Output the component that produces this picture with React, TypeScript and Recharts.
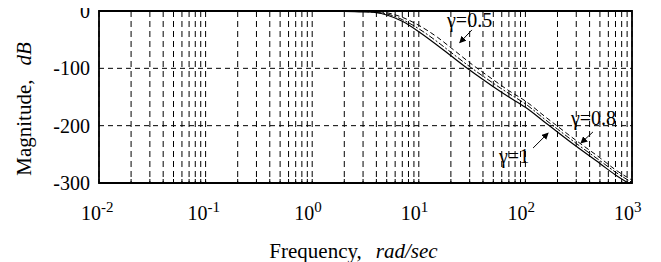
import React from 'react';
import {
  LineChart, Line, XAxis, YAxis, CartesianGrid, ReferenceArea, ReferenceLine, ReferenceDot,
} from 'recharts';

const freq = [0.01, 0.1, 1, 2, 3, 4, 5, 7, 10, 15, 20, 30, 50, 70, 100, 150, 200, 300, 500, 700, 1000];
const gamma1 = [0, 0, 0, -0.5, -1.5, -3, -7, -18, -36, -60, -78, -103, -132, -150, -168, -193, -211, -236, -266, -286, -304];
const gamma08 = [0, 0, 0, -0.3, -1, -2.5, -5, -15, -31, -54, -72, -97, -126, -144, -162, -188, -206, -231, -261, -281, -299];
const gamma05 = [0, 0, 0, 0, 0, -1, -3, -11, -25, -46, -64, -90, -120, -139, -157, -183, -201, -226, -256, -277, -295];

const decades = [0.01, 0.1, 1, 10, 100];
const multipliers = [1, 2, 3, 4, 5, 6, 7, 8, 9];
const xTicks = [...decades.flatMap((d) => multipliers.map((m) => +(d * m).toPrecision(6))), 1000];
const yTicks = [-300, -200, -100, 0];

const data = freq.map((f, i) => ({ f, g1: gamma1[i], g08: gamma08[i], g05: gamma05[i] }));

// annotation anchors (data coordinates)
const labels = [
  { text: 'γ=0.5', f: 18.8, db: -28 },
  { text: 'γ=0.8', f: 273, db: -199 },
  { text: 'γ=1', f: 57.8, db: -265 },
];
const arrows = [
  { from: [31.5, -33], to: [24.3, -55] },
  { from: [430, -211], to: [333, -230] },
  { from: [118, -239], to: [163, -213] },
];

const FONT = 'Liberation Serif, Times New Roman, serif';
const txt = { fontFamily: FONT };

const XTick = (props: any) => {
  const { x, y, payload } = props;
  const v = payload.value;
  const lg = Math.log10(v);
  const isDecade = Math.abs(lg - Math.round(lg)) < 1e-6;
  return (
    <g>
      <line x1={x} x2={x} y1={y} y2={y - 4} stroke="#000" strokeWidth={1} />
      {isDecade && (
        <g fill="#000">
          <text x={x + 2} y={y + 37} textAnchor="end" fontSize={20} style={txt}>10</text>
          <text x={x + 2} y={y + 29} textAnchor="start" fontSize={15} style={txt}>{String(Math.round(lg))}</text>
        </g>
      )}
    </g>
  );
};

const YTick = (props: any) => {
  const { x, y, payload } = props;
  return (
    <text x={x - 9} y={y} dy="0.35em" textAnchor="end" fontSize={20} style={txt} fill="#000">
      {payload.value}
    </text>
  );
};

const XLabel = (props: any) => {
  const vb = props.viewBox;
  return (
    <text x={vb.x + vb.width / 2 - 12} y={vb.y + 75} textAnchor="middle" fontSize={21} style={txt} fill="#000">
      <tspan>Frequency,</tspan>
      <tspan dx={14} fontStyle="italic">rad/sec</tspan>
    </text>
  );
};

const YLabel = (props: any) => {
  const vb = props.viewBox;
  const cx = 31;
  const cy = vb.y + vb.height / 2 + 12;
  return (
    <text x={cx} y={cy} textAnchor="middle" fontSize={21} style={txt} fill="#000" transform={`rotate(-90, ${cx}, ${cy})`}>
      <tspan>Magnitude,</tspan>
      <tspan dx={14} fontStyle="italic">dB</tspan>
    </text>
  );
};

export default function App() {
  return (
    <div style={{ width: 661, height: 262, position: 'relative', background: '#fff', margin: '-8px 0 0 -8px' }}>
      <svg width={0} height={0} style={{ position: 'absolute' }}>
        <defs>
          <marker id="arrowhead" markerWidth={7} markerHeight={7} refX={6} refY={3.5} orient="auto" markerUnits="userSpaceOnUse">
            <path d="M0,0 L7,3.5 L0,7 z" fill="#000" />
          </marker>
        </defs>
      </svg>
      <LineChart width={661} height={262} data={data} margin={{ top: 11, right: 29, left: 0, bottom: 0 }}>
        <CartesianGrid vertical={false} stroke="#000" strokeDasharray="5 4" strokeWidth={1} />
        <CartesianGrid horizontal={false} stroke="#000" strokeDasharray="6 4" strokeWidth={1} />
        <XAxis
          dataKey="f"
          type="number"
          scale="log"
          domain={[0.01, 1000]}
          ticks={xTicks}
          interval={0}
          axisLine={false}
          tickLine={false}
          tickSize={0}
          tickMargin={0}
          tick={<XTick />}
          height={79}
          label={<XLabel />}
          allowDataOverflow
        />
        <YAxis
          type="number"
          domain={[-300, 0]}
          ticks={yTicks}
          interval={0}
          axisLine={false}
          tickLine={false}
          tickSize={0}
          tickMargin={0}
          tick={<YTick />}
          width={99}
          label={<YLabel />}
          allowDataOverflow
        />
        <Line dataKey="g05" stroke="#000" strokeWidth={1} strokeDasharray="5 3" dot={false} isAnimationActive={false} type="monotone" />
        <Line dataKey="g08" stroke="#000" strokeWidth={1} strokeDasharray="6 2 2 2" dot={false} isAnimationActive={false} type="monotone" />
        <Line dataKey="g1" stroke="#000" strokeWidth={1.2} dot={false} isAnimationActive={false} type="monotone" />
        {arrows.map((a, i) => (
          <ReferenceLine
            key={i}
            segment={[{ x: a.from[0], y: a.from[1] }, { x: a.to[0], y: a.to[1] }]}
            stroke="#000"
            strokeWidth={1}
            markerEnd="url(#arrowhead)"
            ifOverflow="visible"
          />
        ))}
        {labels.map((l, i) => (
          <ReferenceDot
            key={i}
            x={l.f}
            y={l.db}
            r={1}
            fill="none"
            stroke="none"
            ifOverflow="visible"
            label={(p: any) => (
              <text x={p.viewBox.x} y={p.viewBox.y + 1} fontSize={20} style={txt} fill="#000">
                {l.text}
              </text>
            )}
          />
        ))}
        <ReferenceArea x1={0.01} x2={1000} y1={-300} y2={0} fill="none" stroke="#000" strokeWidth={1.8} ifOverflow="visible" />
      </LineChart>
    </div>
  );
}
